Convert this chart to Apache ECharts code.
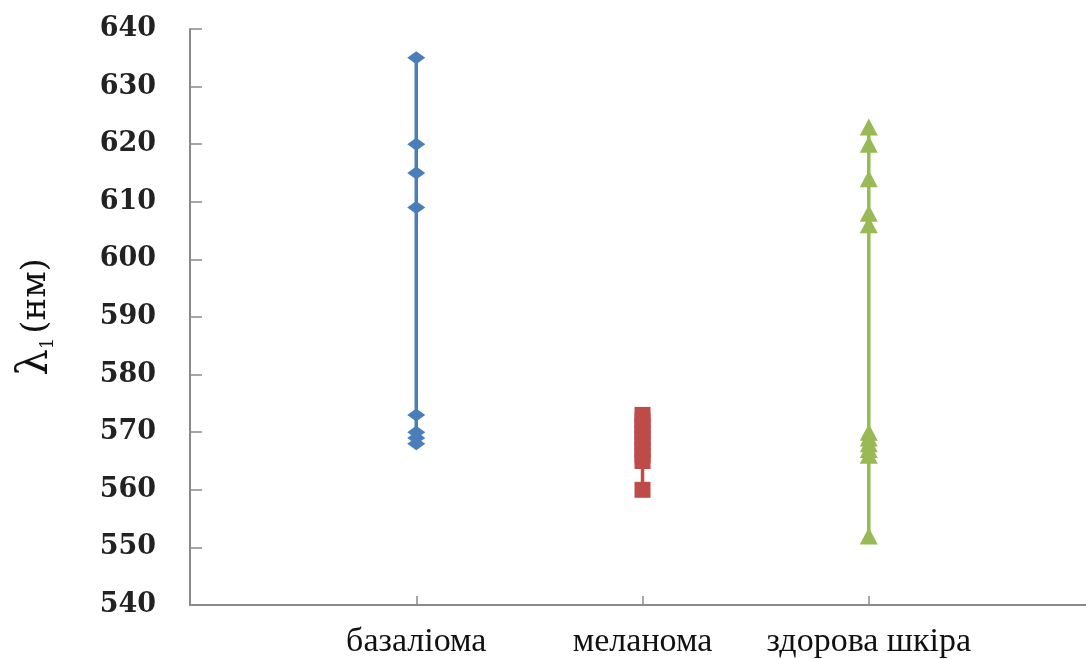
<!DOCTYPE html>
<html>
<head>
<meta charset="utf-8">
<script src="https://cdn.jsdelivr.net/npm/echarts@6/dist/echarts.min.js"></script>
<style>
  html, body { margin: 0; padding: 0; background: #fff; }
  #chart { width: 1086px; height: 659px; }
</style>
</head>
<body>
<div id="chart"></div>
<script>
// Categories along the horizontal axis (positions 1, 2, 3)
const categories = ['базаліома', 'меланома', 'здорова шкіра'];

// λ1 values (nm) for each group
const basaliomaValues = [635, 620, 615, 609, 573, 570, 569, 568];
const melanomaValues = [573, 572, 571, 570, 569, 568, 567, 566, 565, 560];
const healthyValues = [623, 620, 614, 608, 606, 570, 569, 568, 567, 566, 552];

// Vertical axis ticks
const yMin = 540, yMax = 640, yStep = 10;

const colors = ['#4A7EBB', '#BE4B48', '#98B954'];

function points(catIndex, values) {
  return values.map(v => [catIndex + 1, v]);
}

const chart = echarts.init(document.getElementById('chart'));
chart.setOption({
  animation: false,
  grid: { left: 190, right: 0, top: 29, bottom: 54 },
  xAxis: {
    type: 'value',
    min: 0,
    max: 3.96,
    interval: 1,
    splitLine: { show: false },
    axisLine: { show: true, lineStyle: { color: '#8a8a8a', width: 2 } },
    axisTick: { show: true, inside: true, length: 9, lineStyle: { color: '#8a8a8a', width: 1.5 } },
    axisLabel: {
      showMaxLabel: false,
      showMinLabel: false,
      margin: 20,
      fontFamily: 'Liberation Serif',
      fontSize: 34,
      color: '#111',
      formatter: v => (Number.isInteger(v) && v >= 1 && v <= categories.length) ? categories[v - 1] : ''
    }
  },
  yAxis: {
    type: 'value',
    min: yMin,
    max: yMax,
    interval: yStep,
    splitLine: { show: false },
    axisLine: { show: true, lineStyle: { color: '#8a8a8a', width: 2 } },
    axisTick: { show: true, inside: true, length: 12, lineStyle: { color: '#8a8a8a', width: 1.5 } },
    axisLabel: {
      margin: 34,
      fontFamily: 'DejaVu Serif',
      fontWeight: 'bold',
      fontSize: 27,
      color: '#222'
    },
    name: '{l|λ}{s|1}{p|(нм)}',
    nameLocation: 'middle',
    nameGap: 133,
    nameRotate: 90,
    nameTextStyle: {
      color: '#111',
      rich: {
        l: { fontFamily: 'DejaVu Serif', fontSize: 42, color: '#111' },
        s: { fontFamily: 'DejaVu Serif', fontSize: 18, color: '#111', verticalAlign: 'bottom', padding: [16, 4, 0, 0] },
        p: { fontFamily: 'DejaVu Serif', fontSize: 34, color: '#111' }
      }
    }
  },
  series: [
    {
      name: categories[0],
      type: 'line',
      data: points(0, basaliomaValues),
      symbol: 'diamond',
      symbolSize: [18, 13],
      lineStyle: { color: colors[0], width: 3.5 },
      itemStyle: { color: colors[0] }
    },
    {
      name: categories[1],
      type: 'line',
      data: points(1, melanomaValues),
      symbol: 'rect',
      symbolSize: 16,
      lineStyle: { color: colors[1], width: 3.5 },
      itemStyle: { color: colors[1] }
    },
    {
      name: categories[2],
      type: 'line',
      data: points(2, healthyValues),
      symbol: 'triangle',
      symbolSize: [18, 17],
      lineStyle: { color: colors[2], width: 3.5 },
      itemStyle: { color: colors[2] }
    }
  ]
});
</script>
</body>
</html>
